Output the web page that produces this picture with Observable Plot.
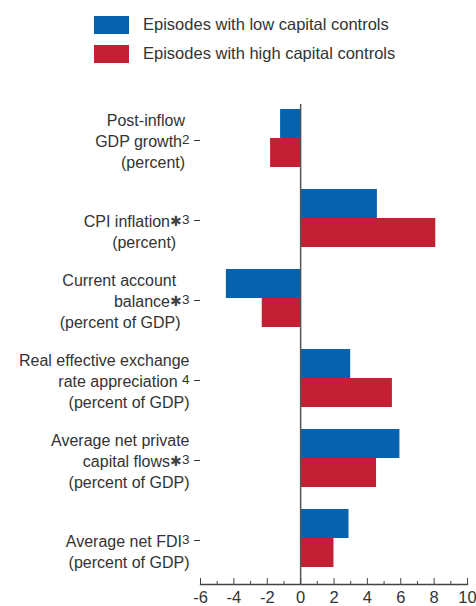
<!DOCTYPE html>
<html>
<head>
<meta charset="utf-8">
<script src="https://cdn.jsdelivr.net/npm/d3@7"></script>
<script src="https://cdn.jsdelivr.net/npm/@observablehq/plot@0.6"></script>
<style>
  html, body { margin: 0; padding: 0; background: #fff; }
  body { width: 476px; height: 606px; overflow: hidden; font-family: "Liberation Sans", Arial, sans-serif; color: #333; }
  #legend { position: relative; height: 70px; }
  .row { position: absolute; left: 94px; display: flex; align-items: center; font-size: 16.5px; }
  .sw { width: 35px; height: 18px; margin-right: 14px; }
</style>
</head>
<body>
<div id="legend"></div>
<div id="chart"></div>
<script>
// ---- data ----
const categories = ["gdp", "cpi", "ca", "reer", "flows", "fdi"];
const categoryLabels = [
  "Post-inflow\u00a0\nGDP growth\u00b2\n(percent)\u00a0",
  "\u00a0\nCPI inflation\u2731\u00b3\n(percent)\u00a0\u00a0\u00a0",
  "Current account\u00a0\u00a0\u00a0\nbalance\u2731\u00b3\n(percent of GDP)\u00a0\u00a0",
  "Real effective exchange\nrate appreciation \u2074\n(percent of GDP)",
  "Average net private\ncapital flows\u2731\u00b3\n(percent of GDP)",
  "\u00a0\nAverage net FDI\u00b3\n(percent of GDP)"
];
const lowControls  = [-1.2, 4.6, -4.45, 3.0, 5.95, 2.9];
const highControls = [-1.8, 8.1, -2.3, 5.5, 4.55, 2.0];
const seriesNames = ["Episodes with low capital controls", "Episodes with high capital controls"];
const seriesColors = ["#0762ae", "#c42033"];
const xMajorTicks = [-6, -4, -2, 0, 2, 4, 6, 8, 10];
const xMinorTicks = [-5, -3, -1, 1, 3, 5, 7, 9];

// ---- legend ----
const legend = document.getElementById("legend");
seriesNames.forEach((name, i) => {
  const row = document.createElement("div");
  row.className = "row";
  row.style.top = (15 + i * 29) + "px";
  row.innerHTML = `<div class="sw" style="background:${seriesColors[i]}"></div><span>${name}</span>`;
  legend.appendChild(row);
});

// ---- chart ----
const data = categories.map((c, i) => ({cat: c, low: lowControls[i], high: highControls[i]}));
const labelOf = Object.fromEntries(categories.map((c, i) => [c, categoryLabels[i]]));

const half = 29;
const chart = Plot.plot({
  width: 476,
  height: 536,
  marginLeft: 200,
  marginRight: 9,
  marginTop: 34,
  marginBottom: 22,
  style: {fontFamily: "'Liberation Sans', Arial, sans-serif", fontSize: "16px", color: "#333", background: "#fff"},
  x: {domain: [-6, 10]},
  y: {domain: categories, range: [17, 519], padding: 0.275},
  marks: [
    Plot.barX(data, {y: "cat", x: "low", fill: seriesColors[0], insetBottom: half}),
    Plot.barX(data, {y: "cat", x: "high", fill: seriesColors[1], insetTop: half}),
    Plot.ruleX([0], {stroke: "#555", strokeWidth: 1.5}),
    Plot.frame({anchor: "bottom", stroke: "#444", strokeWidth: 1.3}),
    Plot.axisX(xMajorTicks, {tickSize: -6, tickPadding: 13, fontSize: 16.5, tickFormat: d => String(d), label: null, stroke: "#444"}),
    Plot.axisX(xMinorTicks, {tickSize: -3, tickFormat: () => "", label: null, stroke: "#444"}),
    Plot.axisY({tickSize: 6, tickPadding: 5, tickFormat: d => labelOf[d], lineHeight: 1.3, dy: 2, label: null, stroke: "#333"})
  ]
});

// superscripts and star markers in the category labels
const special = {"\u00b2": ["2", "sup"], "\u00b3": ["3", "sup"], "\u2074": ["4", "sup"], "\u2731": ["\u2731", "star"]};
const NS = "http://www.w3.org/2000/svg";
chart.querySelectorAll("g[aria-label='y-axis tick label'] tspan").forEach(ts => {
  const t = ts.textContent;
  if (![...t].some(ch => special[ch])) return;
  ts.textContent = "";
  let buf = "";
  const flush = () => { if (buf) { ts.appendChild(document.createTextNode(buf)); buf = ""; } };
  for (const ch of t) {
    if (special[ch]) {
      flush();
      const [txt, kind] = special[ch];
      const s = document.createElementNS(NS, "tspan");
      s.textContent = txt;
      if (kind === "sup") {
        s.setAttribute("font-size", "13.5");
        s.setAttribute("baseline-shift", "3.5");
      } else {
        s.setAttribute("font-size", "13.5");
        s.setAttribute("baseline-shift", "1");
        s.setAttribute("fill", "#444");
      }
      ts.appendChild(s);
    } else buf += ch;
  }
  flush();
});
document.getElementById("chart").appendChild(chart);
</script>
</body>
</html>
